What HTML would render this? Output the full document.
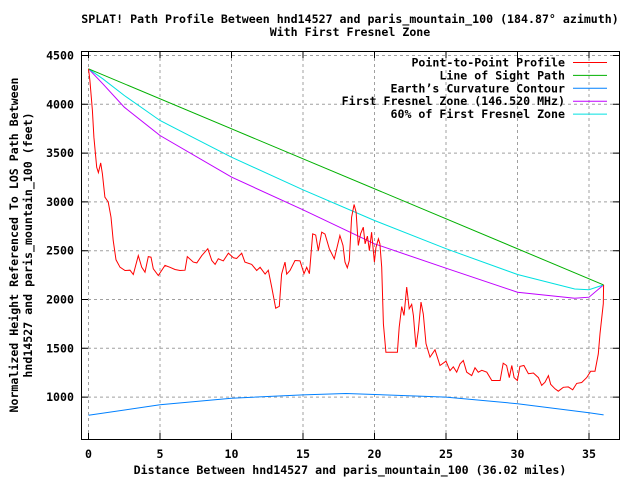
<!DOCTYPE html>
<html><head><meta charset="utf-8"><style>
html,body{margin:0;padding:0;background:#fff;}
svg{display:block;font-family:"DejaVu Sans Mono","Liberation Mono",monospace;font-weight:bold;font-size:11.6px;}
</style></head><body>
<svg id="chart" width="640" height="480" viewBox="0 0 640 480">
<rect x="0" y="0" width="640" height="480" fill="#fff"/>
<text x="350" y="23" text-anchor="middle">SPLAT! Path Profile Between hnd14527 and paris_mountain_100 (184.87° azimuth)</text>
<text x="350" y="36" text-anchor="middle">With First Fresnel Zone</text>
<g id="grid"></g>
<g id="axes"></g>
<g id="series"></g>
<rect x="81.5" y="51.5" width="538" height="388" fill="none" stroke="#000" stroke-width="1"/>
<text x="350" y="474" text-anchor="middle">Distance Between hnd14527 and paris_mountain_100 (36.02 miles)</text>
<text transform="translate(18,245) rotate(-90)" text-anchor="middle">Normalized Height Referenced To LOS Path Between</text>
<text transform="translate(32,245) rotate(-90)" text-anchor="middle">hnd14527 and paris_mountain_100 (feet)</text>
<g id="legend"></g>
</svg>
<script>
const xTicks = [0,5,10,15,20,25,30,35];
const yTicks = [1000,1500,2000,2500,3000,3500,4000,4500];
const profMiles = [0,0.1,0.27,0.38,0.57,0.69,0.85,0.97,1.15,1.38,1.57,1.73,1.92,2.2,2.55,2.9,3.13,3.48,3.72,3.95,4.18,4.37,4.53,4.88,5.35,5.7,6.05,6.4,6.75,6.91,7.33,7.57,7.92,8.34,8.62,8.85,9.08,9.43,9.78,10.13,10.36,10.71,10.94,11.41,11.76,12.0,12.35,12.57,12.81,13.09,13.34,13.5,13.74,13.86,14.09,14.44,14.79,15.07,15.26,15.45,15.68,15.89,16.07,16.31,16.54,16.84,17.19,17.58,17.8,17.94,18.1,18.24,18.4,18.57,18.71,18.87,19.03,19.22,19.34,19.5,19.64,19.8,19.99,20.1,20.27,20.38,20.5,20.62,20.8,21.6,21.73,21.9,22.06,22.25,22.43,22.6,22.72,22.9,23.06,23.25,23.41,23.6,23.88,24.23,24.58,25.0,25.28,25.51,25.75,25.98,26.21,26.45,26.8,27.03,27.26,27.5,27.85,28.2,28.55,28.78,29.0,29.24,29.43,29.6,29.76,29.99,30.17,30.45,30.76,31.11,31.46,31.69,31.92,32.16,32.32,32.62,32.85,33.2,33.55,33.86,34.14,34.49,34.84,35.12,35.42,35.65,35.77,36.0,36.02];
const profFeet = [4364,4244,3936,3663,3355,3300,3400,3288,3048,3000,2843,2605,2407,2331,2297,2300,2256,2450,2331,2280,2440,2433,2315,2246,2349,2330,2307,2297,2300,2440,2383,2375,2450,2520,2400,2360,2417,2395,2474,2427,2420,2474,2383,2360,2297,2330,2260,2300,2127,1911,1930,2260,2383,2260,2297,2400,2395,2264,2330,2264,2673,2660,2500,2690,2670,2520,2417,2656,2553,2383,2325,2400,2843,2973,2896,2553,2673,2741,2571,2650,2500,2690,2383,2530,2622,2570,2331,1750,1460,1460,1716,1928,1836,2127,1905,1950,1836,1510,1680,1973,1850,1547,1410,1485,1324,1368,1270,1310,1255,1340,1375,1255,1220,1300,1255,1275,1255,1170,1170,1170,1347,1324,1200,1324,1200,1170,1315,1324,1240,1247,1200,1120,1153,1220,1130,1085,1060,1100,1105,1075,1140,1150,1200,1265,1265,1443,1650,1957,2150];
const losMiles = [0,36.02];
const losFeet = [4364,2150];
const curveMiles = [0,5,10,15,18,25,30,35,36.02];
const curveFeet = [815,921,989,1023,1037,1000,932,840,818];
const fresMiles = [0,1,2.5,5,10,15,20,25,30,34,35,36.02];
const fresnelFeet = [4364,4210,3970,3680,3254,2919,2571,2321,2075,2013,2024,2150];
const fres60Feet = [4364,4261,4090,3834,3458,3124,2809,2520,2256,2108,2100,2150];

const X0=88.5, XS=14.3, Y4500=55.5, YS=0.0976;
const xs = m => X0 + m*XS;
const ys = f => Y4500 + (4500-f)*YS;
const NS='http://www.w3.org/2000/svg';
function mk(tag, parent, attrs){const e=document.createElementNS(NS,tag);for(const k in attrs)e.setAttribute(k,attrs[k]);parent.appendChild(e);return e;}
const grid=document.getElementById('grid'), axes=document.getElementById('axes'), series=document.getElementById('series'), legend=document.getElementById('legend');
xTicks.forEach(t=>{
  const x=xs(t);
  const g=mk('line',grid,{x1:x,x2:x,y1:52,y2:439,stroke:'#a0a0a0','stroke-dasharray':'3,3'});
  
  
  const tk=mk('path',axes,{d:`M${x},439V433M${x},52V58`,stroke:'#000'});
  
  
  const l=mk('text',axes,{x:x,y:458,'text-anchor':'middle'});
  l.textContent=t;
  
  
});
yTicks.forEach(t=>{
  const y=ys(t);
  const g=mk('line',grid,{x1:82,x2:619,y1:y,y2:y,stroke:'#a0a0a0','stroke-dasharray':'3,3'});
  
  
  const tk=mk('path',axes,{d:`M82,${y}H88M619,${y}H613`,stroke:'#000'});
  
  
  const l=mk('text',axes,{x:74,y:y+4,'text-anchor':'end'});
  l.textContent=t;
  
  
});
function line(mx,fy,color,name){
  const d=mx.map((m,i)=>(i?'L':'M')+xs(m).toFixed(1)+','+ys(fy[i]).toFixed(1)).join('');
  const p=mk('path',series,{d:d,fill:'none',stroke:color,'stroke-width':1});
  
  
}
line(curveMiles,curveFeet,'#0080ff','earth-curvature-line');
line(fresMiles,fresnelFeet,'#c000ff','fresnel-zone-line');
line(fresMiles,fres60Feet,'#00e0e0','fresnel-60-line');
line(losMiles,losFeet,'#00b000','line-of-sight-line');
line(profMiles,profFeet,'#ff0000','profile-line');
const legNames=['Point-to-Point Profile','Line of Sight Path','Earth\u2019s Curvature Contour','First Fresnel Zone (146.520 MHz)','60% of First Fresnel Zone'];
const legColors=['#ff0000','#00b000','#0080ff','#c000ff','#00e0e0'];
legNames.forEach((n,i)=>{
  const y=62.5+i*12.9;
  const t=mk('text',legend,{x:565,y:y+4,'text-anchor':'end'});
  t.textContent=n;
  
  
  const l=mk('line',legend,{x1:573,x2:607,y1:y,y2:y,stroke:legColors[i]});
  
  
});
</script>
</body></html>
